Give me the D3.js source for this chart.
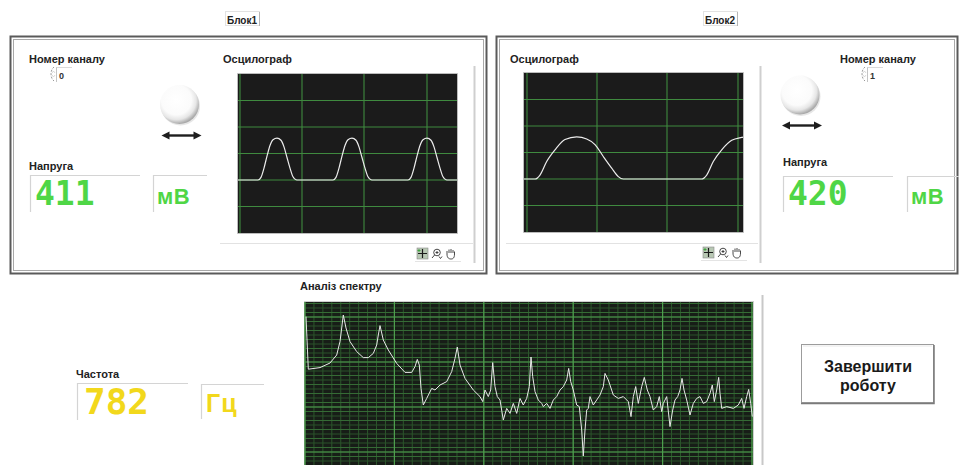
<!DOCTYPE html>
<html><head><meta charset="utf-8">
<script src="https://cdn.jsdelivr.net/npm/d3@7"></script>
<style>
body{margin:0;background:#fff;overflow:hidden}
svg{display:block}
text{font-family:"Liberation Sans",Arial,sans-serif}
text.seg{font-family:"DejaVu Sans Mono","Liberation Mono",monospace;font-weight:bold}
</style>
</head><body>
<svg id="c" width="959" height="465"></svg>
<script>
// ---------------- data ----------------
const blockLabels = ["Блок1", "Блок2"];
const channelLabel = "Номер каналу";
const scopeLabel = "Осцилограф";
const voltageLabel = "Напруга";
const channelNumbers = [0, 1];
const voltageValues = [411, 420];
const voltageUnit = "мВ";
const spectrumLabel = "Аналіз спектру";
const frequencyLabel = "Частота";
const frequencyValue = 782;
const frequencyUnit = "Гц";
const buttonLines = ["Завершити", "роботу"];

// oscilloscope 1 (sample index, amplitude in divisions)
const wave1T = [0,20,23,26,29,32,35,39,43,46,49,52,55,58,60,
                95,98,101,104,107,110,114,118,121,124,127,130,133,135,
                170,173,176,179,182,185,189,193,196,199,202,205,208,210,219];
const wave1V = [0,0,0.1,0.45,0.9,1.3,1.52,1.58,1.5,1.25,0.85,0.45,0.12,0.01,0,
                0,0.1,0.45,0.9,1.3,1.52,1.58,1.5,1.25,0.85,0.45,0.12,0.01,0,
                0,0.1,0.45,0.9,1.3,1.52,1.58,1.5,1.25,0.85,0.45,0.12,0.01,0,0];
// oscilloscope 2
const wave2T = [0,11,16,22.7,31,41,52.7,62.7,71,79.3,87.7,94.3,99.3,177.7,182.7,189.3,197.7,207.7,217.7,219];
const wave2V = [0,0,0.15,0.66,1.1,1.49,1.59,1.51,1.3,0.85,0.41,0.09,0,0,0.15,0.66,1.1,1.46,1.57,1.58];
const scopeGridX1 = [2, 64, 126, 189];
const scopeGridX2 = [3, 73, 143, 214];
const scopeGridY = [-1, 0, 1, 2, 3];

// spectrum (bin, dB)
const spectrumBins = [1,3.3,15,25,31.7,35,36.7,38.3,41,45,51.7,58.3,63.3,68.3,71.7,73.3,75,78.3,83.3,91.7,
  100,106.7,110,112.3,114.3,116,118.3,121.7,126.7,130,135,141.7,146.7,150,152.3,155,160,168.3,175,177.7,
  180,183.3,185.7,187.7,190,192.3,195,198.3,201.7,205,208.3,211.7,215,218.3,221.7,224.3,226,227.7,230,233.3,
  236.7,238.3,241.7,245,248.3,251.7,255,258.3,261.7,263.7,265.7,268.3,271.7,274.3,276.7,278.3,280,281.7,283.3,285,
  288.3,291.7,295,298.3,300,303.3,308.3,313.3,318.3,323.3,326,328.3,330.7,333.3,336.7,339.3,342.3,345,348.3,351.7,
  354.3,356.7,358.3,361.7,365,367.7,370,372.7,375,377,379,381.7,385,388.3,391.7,395,398.3,401.7,405,407.3,
  409.3,411.7,413.7,415,416.7,421.7,428.3,433.3,436.7,439,441.7,443.7,445.7,447.3];
const spectrumDb = [-7.3,-33.6,-32.8,-30.5,-26.5,-19.8,-13,-6.5,-13,-19.8,-24.8,-27.8,-27.8,-25.7,-21.5,-16.5,-11.8,-19,-24,-30.7,
  -35.2,-35.2,-32.3,-28.7,-31.5,-43.2,-51.5,-48.2,-43.2,-44,-41.5,-39.8,-34.8,-28.2,-22.5,-31.5,-38.2,-44,-47.3,-49.8,
  -44,-47.3,-44,-30.3,-42.3,-47.3,-49,-59,-53.2,-55.7,-50.7,-55.7,-48.2,-51.5,-48.2,-42.3,-27.5,-37.3,-44.8,-49,
  -50.7,-52.3,-50.7,-53.2,-49,-47.3,-44,-42.3,-39,-33.2,-39.8,-44,-51.5,-52.3,-64,-77,-64,-54,-53.2,-47.3,
  -51.5,-49,-46.5,-42.3,-35.7,-39,-46.5,-48.2,-47.3,-49.8,-57.3,-47.3,-42.3,-50.7,-42.3,-37.7,-44,-47.3,-54,-52.3,
  -47.3,-54.8,-50.7,-47.3,-62.3,-54,-49,-47.3,-44,-38.2,-44,-49,-56.5,-50.7,-48.2,-47.3,-50.7,-49.8,-45.7,-41.5,
  -49.8,-44,-37.7,-45.7,-53.2,-52.3,-53.2,-51.5,-48.2,-53.2,-47.3,-43.7,-50.7,-57.3];

// ---------------- drawing ----------------
const svg = d3.select("#c");
svg.append("rect").attr("width",959).attr("height",465).attr("fill","#fff");
const defs = svg.append("defs");
const rg = defs.append("radialGradient").attr("id","knob").attr("cx","42%").attr("cy","38%").attr("r","62%");
rg.append("stop").attr("offset","0%").attr("stop-color","#ffffff");
rg.append("stop").attr("offset","62%").attr("stop-color","#fbfbfb");
rg.append("stop").attr("offset","82%").attr("stop-color","#e6e6e6");
rg.append("stop").attr("offset","100%").attr("stop-color","#a9a9a9");

function label(x, y, t, size, anchor) {
  return svg.append("text").attr("x",x).attr("y",y).attr("font-size",size||11)
    .attr("font-weight","bold").attr("fill","#222").attr("text-anchor",anchor||"start").text(t);
}
function frame(x, w) {
  svg.append("rect").attr("x",x+0.5).attr("y",36.5).attr("width",w).attr("height",237)
    .attr("fill","none").attr("stroke","#5a5a5a").attr("stroke-width",2);
  svg.append("rect").attr("x",x+3.5).attr("y",39.5).attr("width",w-6).attr("height",231)
    .attr("fill","none").attr("stroke","#a8a8a8").attr("stroke-width",1);
}
function blockTitle(cx, t) {
  svg.append("rect").attr("x",cx-17.5).attr("y",11.5).attr("width",34).attr("height",14)
    .attr("fill","#fff").attr("stroke","#e2e2e2");
  svg.append("line").attr("x1",cx+16.5).attr("x2",cx+16.5).attr("y1",12).attr("y2",26).attr("stroke","#b5b5b5");
  label(cx-1, 23.5, t, 10, "middle");
}
function knob(cx, cy, ay) {
  svg.append("circle").attr("cx",cx+1).attr("cy",cy+1.5).attr("r",19.5).attr("fill","#d6d6d6").attr("opacity",0.6);
  svg.append("circle").attr("cx",cx).attr("cy",cy).attr("r",19.5).attr("fill","url(#knob)");
  const x1 = cx-18, x2 = cx+22;
  svg.append("line").attr("x1",x1+6).attr("x2",x2-6).attr("y1",ay).attr("y2",ay).attr("stroke","#1e1e1e").attr("stroke-width",2.4);
  svg.append("path").attr("d",`M${x1},${ay} L${x1+8},${ay-4} L${x1+8},${ay+4} Z`).attr("fill","#1e1e1e");
  svg.append("path").attr("d",`M${x2},${ay} L${x2-8},${ay-4} L${x2-8},${ay+4} Z`).attr("fill","#1e1e1e");
}
function spinner(x, y, v) {
  svg.append("path").attr("d",`M${x+4},${y} C${x},${y+3} ${x},${y+11} ${x+4},${y+14}`)
    .attr("fill","none").attr("stroke","#9a9a9a").attr("stroke-width",1).attr("stroke-dasharray","2,1.5");
  svg.append("path").attr("d",`M${x+2},${y+6} l1.5,-2 l1.5,2 M${x+2},${y+8} l1.5,2 l1.5,-2`)
    .attr("fill","none").attr("stroke","#c0c0c0").attr("stroke-width",0.6);
  svg.append("line").attr("x1",x+6.5).attr("x2",x+6.5).attr("y1",y).attr("y2",y+15).attr("stroke","#c4c4c4");
  svg.append("line").attr("x1",x+6.5).attr("x2",x+22).attr("y1",y+0.5).attr("y2",y+0.5).attr("stroke","#dadada");
  svg.append("text").attr("x",x+9).attr("y",y+12).attr("font-size",9).attr("font-weight","bold")
    .attr("fill","#333").text(v);
}
function display(x, y, w, h, txt, color, size, tx, ty) {
  const g = svg.append("g");
  g.append("path").attr("d",`M${x+0.5},${y+h} L${x+0.5},${y+0.5} L${x+w},${y+0.5}`)
    .attr("fill","none").attr("stroke","#d4d4d4").attr("stroke-width",1.2);
  g.append("text").attr("class","seg").attr("x",tx).attr("y",ty).attr("font-size",size)
    .attr("fill",color).attr("letter-spacing",0).text(txt);
}
function unitBox(x, y, w, h, txt, color, size, tx, ty, lsp) {
  svg.append("path").attr("d",`M${x+0.5},${y+h} L${x+0.5},${y+0.5} L${x+w},${y+0.5}`)
    .attr("fill","none").attr("stroke","#d4d4d4").attr("stroke-width",1.2);
  svg.append("text").attr("x",tx).attr("y",ty).attr("font-size",size).attr("font-weight","bold")
    .attr("fill",color).attr("letter-spacing",lsp||0).text(txt);
}
function icons(x, y) {
  const g = svg.append("g");
  g.append("rect").attr("x",x).attr("y",y).attr("width",11).attr("height",11).attr("fill","#b8c8b4").attr("stroke","#8a8a8a").attr("stroke-width",0.6);
  g.append("path").attr("d",`M${x+5.5},${y+1} V${y+10} M${x+1},${y+5.5} H${x+10}`).attr("stroke","#1a1a1a").attr("stroke-width",1.2);
  g.append("path").attr("d",`M${x+2},${y+1} v3 M${x+0.5},${y+2.5} h3`).attr("stroke","#3aa03a").attr("stroke-width",0.9);
  const zx = x+14;
  g.append("circle").attr("cx",zx+6).attr("cy",y+4.5).attr("r",3.3).attr("fill","#fff").attr("stroke","#333").attr("stroke-width",0.9);
  g.append("path").attr("d",`M${zx+4.5},${y+4.5} h3 M${zx+6},${y+3} v3 M${zx+3.6},${y+7} L${zx+1},${y+10} M${zx+8},${y+8.5} l1.5,2 l1.5,-2`)
    .attr("stroke","#333").attr("stroke-width",0.9).attr("fill","none");
  const hx = x+28;
  g.append("path").attr("d",`M${hx+2},${y+6} L${hx+2},${y+3} M${hx+4},${y+5} L${hx+4},${y+1.5} M${hx+6},${y+5} L${hx+6},${y+1} M${hx+8},${y+5} L${hx+8},${y+2} M${hx+9.5},${y+6} L${hx+9.5},${y+3.5} M${hx+2},${y+6} C${hx+2},${y+10} ${hx+4},${y+11} ${hx+6},${y+11} C${hx+8},${y+11} ${hx+9.5},${y+10} ${hx+9.5},${y+6}`)
    .attr("stroke","#333").attr("stroke-width",0.9).attr("fill","none");
  g.append("path").attr("d",`M${x-2},${y+13.5} H${x+44}`).attr("stroke","#e4e4e4");
}
function scope(px, py, gridX, T, V) {
  const w = 219, h = 159;
  const x = d3.scaleLinear().domain([0, 219]).range([px, px + w]);
  const y = d3.scaleLinear().domain([-2, 4]).range([py + h, py]);
  const g = svg.append("g");
  g.append("rect").attr("x",px-0.5).attr("y",py-0.5).attr("width",w+1).attr("height",h+1).attr("fill","#1b1b1b").attr("stroke","#c9c9c9").attr("stroke-width",0.8);
  g.selectAll(".gx").data(gridX).join("line").attr("x1",d=>x(d)).attr("x2",d=>x(d)).attr("y1",py).attr("y2",py+h)
    .attr("stroke","#3f8a3f").attr("stroke-width",1.1);
  g.selectAll(".gy").data(scopeGridY).join("line").attr("y1",d=>y(d)).attr("y2",d=>y(d)).attr("x1",px).attr("x2",px+w)
    .attr("stroke","#3f8a3f").attr("stroke-width",1.1);
  const pts = T.map((t,i)=>[t, V[i]]);
  g.append("path").datum(pts).attr("fill","none").attr("stroke","#ececec").attr("stroke-width",1.2)
    .attr("d", d3.line().x(d=>x(d[0])).y(d=>y(d[1])).curve(d3.curveMonotoneX));
}

// ----- Block 1 -----
blockTitle(243, blockLabels[0]);
frame(10, 476);
label(29, 63, channelLabel);
spinner(50, 67, channelNumbers[0]);
knob(179.5, 104.5, 135.5);
label(29, 170, voltageLabel);
display(30, 175, 110, 37, String(voltageValues[0]), "#4fd646", 33, 35, 205);
unitBox(153, 175, 54, 37, voltageUnit, "#4fd646", 22, 157, 203.5, 0.5);
label(223, 63, scopeLabel);
scope(238, 74, scopeGridX1, wave1T, wave1V);
svg.append("line").attr("x1",220).attr("x2",473).attr("y1",243.5).attr("y2",243.5).attr("stroke","#e2e2e2");
svg.append("line").attr("x1",474.5).attr("x2",474.5).attr("y1",66).attr("y2",263).attr("stroke","#cfcfcf").attr("stroke-width",2);
icons(417, 248);

// ----- Block 2 -----
blockTitle(721, blockLabels[1]);
frame(496, 461);
label(510, 63, scopeLabel);
scope(524, 73, scopeGridX2, wave2T, wave2V);
svg.append("line").attr("x1",506).attr("x2",758).attr("y1",243.5).attr("y2",243.5).attr("stroke","#e2e2e2");
svg.append("line").attr("x1",760.5).attr("x2",760.5).attr("y1",66).attr("y2",263).attr("stroke","#cfcfcf").attr("stroke-width",2);
icons(703, 247);
label(840, 63, channelLabel);
spinner(861, 67, channelNumbers[1]);
knob(800, 95, 125.5);
label(783, 166, voltageLabel);
display(783, 176, 110, 36, String(voltageValues[1]), "#4fd646", 33, 788, 205);
unitBox(907, 176, 52, 36, voltageUnit, "#4fd646", 22, 911, 204, 0.5);

// ----- Spectrum -----
label(300, 290, spectrumLabel);
label(76, 378, frequencyLabel);
display(77, 383, 111, 37, String(frequencyValue), "#f2d81c", 36, 84, 414);
unitBox(201, 384, 63, 35, frequencyUnit, "#f2d81c", 25, 206, 412, 1);

const sx = d3.scaleLinear().domain([0, 447]).range([305, 752]);
const sy = d3.scaleLinear().domain([-89, 0]).range([480, 302]);
const sg = svg.append("g");
sg.append("rect").attr("x",304.5).attr("y",301.5).attr("width",449).attr("height",180).attr("fill","#171d17").attr("stroke","#cfcfcf").attr("stroke-width",1);
const vMinor = d3.range(0, 447.5, 8.94);
const vMajor = d3.range(0, 447.5, 89.4);
const hMinor = d3.range(-0.75, -89, -2.25);
const hMajor = [-7.5, -30, -52.5, -75];
sg.selectAll(".vmi").data(vMinor).join("line").attr("x1",d=>sx(d)).attr("x2",d=>sx(d)).attr("y1",302).attr("y2",480)
  .attr("stroke","#2c572c").attr("stroke-width",1);
sg.selectAll(".hmi").data(hMinor).join("line").attr("y1",d=>sy(d)).attr("y2",d=>sy(d)).attr("x1",305).attr("x2",753)
  .attr("stroke",(d,i)=> i%2 ? "#2a522a" : "#356b35").attr("stroke-width",1);
sg.selectAll(".vma").data(vMajor).join("line").attr("x1",d=>sx(d)).attr("x2",d=>sx(d)).attr("y1",302).attr("y2",480)
  .attr("stroke","#4e9e4e").attr("stroke-width",1.2);
sg.selectAll(".hma").data(hMajor).join("line").attr("y1",d=>sy(d)).attr("y2",d=>sy(d)).attr("x1",305).attr("x2",753)
  .attr("stroke","#4e9e4e").attr("stroke-width",1.2);
const spts = spectrumBins.map((b,i)=>[b, spectrumDb[i]]);
sg.append("path").datum(spts).attr("fill","none").attr("stroke","#e8e8e8").attr("stroke-width",1)
  .attr("d", d3.line().x(d=>sx(d[0])).y(d=>sy(d[1])));
svg.append("line").attr("x1",762.5).attr("x2",762.5).attr("y1",295).attr("y2",465).attr("stroke","#c8c8c8").attr("stroke-width",2);

// ----- Button -----
const bg = svg.append("g");
bg.append("rect").attr("x",801.5).attr("y",344.5).attr("width",132).attr("height",58).attr("fill","#fff").attr("stroke","#9c9c9c");
bg.append("path").attr("d","M934,345 V403.5 H801").attr("fill","none").attr("stroke","#7a7a7a").attr("stroke-width",1.5);
bg.append("path").attr("d","M803,346 H932").attr("stroke","#e8e8e8");
bg.selectAll("text").data(buttonLines).join("text").attr("x",868).attr("y",(d,i)=>372+i*19)
  .attr("text-anchor","middle").attr("font-size",16).attr("font-weight","bold").attr("fill","#1a1a1a").text(d=>d);
</script>
</body></html>
